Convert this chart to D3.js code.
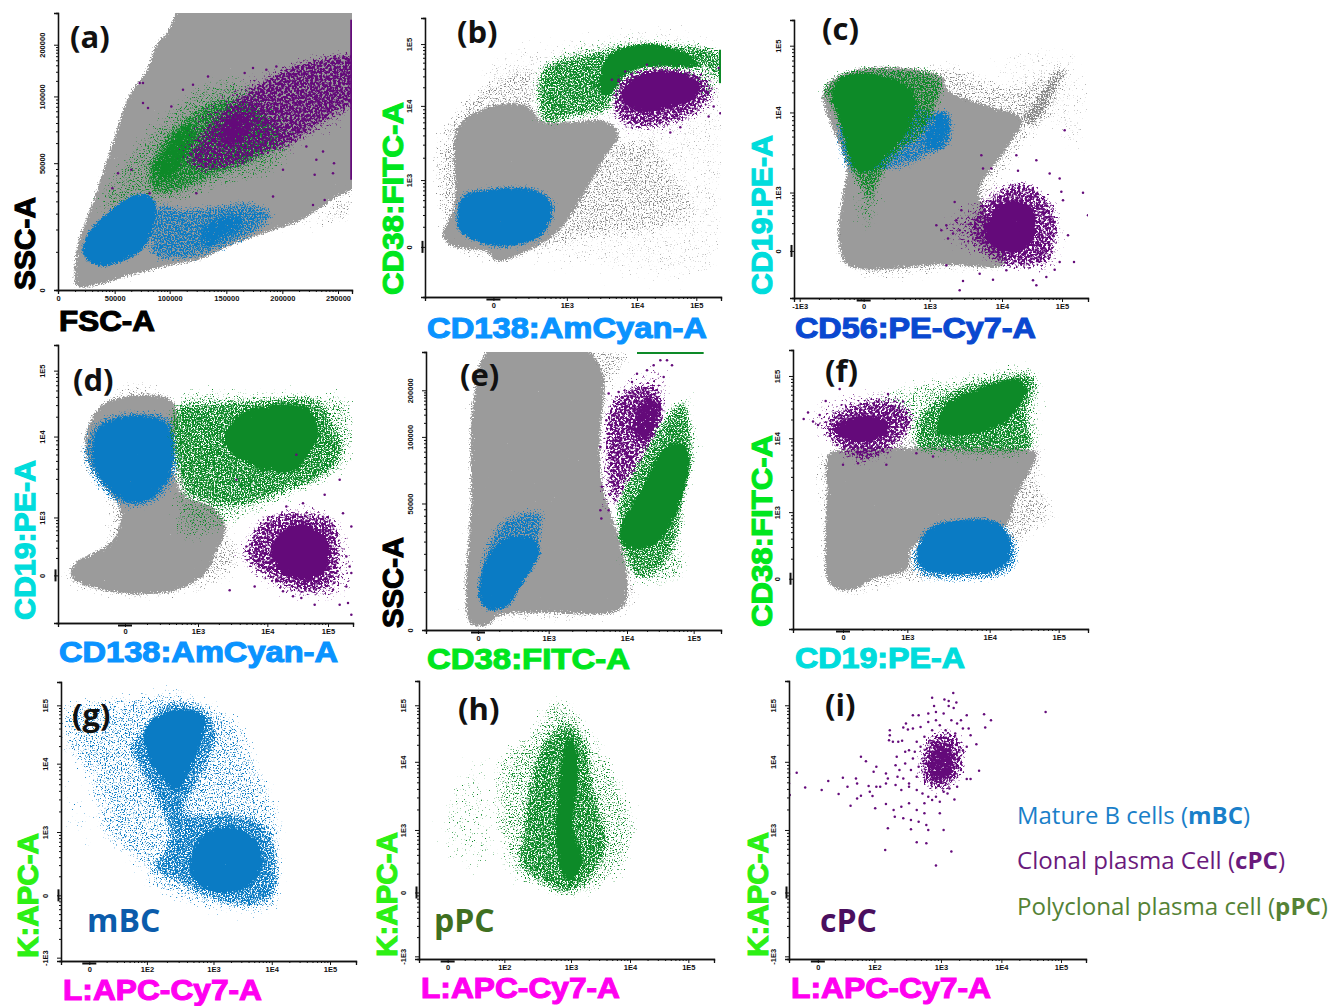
<!DOCTYPE html>
<html>
<head>
<meta charset="utf-8">
<script src="https://cdn.jsdelivr.net/npm/d3@7"></script>
<style>
html, body { margin: 0; background: #fff; }
svg { display: block; }
</style>
</head>
<body>
<div id="chart"></div>
<script>
// All population outlines and events are in display channels of each plot's own axes
const grayCol = "#9b9b9b", speckCol = "#858585", farCol = "#b5b5b5", greenCol = "#0d8a28", blueCol = "#0a7bc4", purpleCol = "#640a7a";

// tick positions (channels) and labels
const aXTicks = [0, 170, 335, 505, 673, 840], aXLabels = ["0", "50000", "100000", "150000", "200000", "250000"];
const aYTicks = [0, 380, 580, 735], aYLabels = ["0", "50000", "100000", "200000"];
const bXTicks = [205, 425, 635, 813], bYTicks = [150, 350, 572, 757];
const cXTicks = [17, 209, 407, 624, 804], cYTicks = [141, 316, 556, 756];
const dXTicks = [201, 420, 628, 810], dYTicks = [143, 317, 560, 758];
const eXTicks = [156, 368, 603, 803], eYTicks = [0, 380, 580, 720];
const fXTicks = [150, 343, 590, 797], fYTicks = [151, 351, 573, 760];
const gXTicks = [85, 258, 458, 633, 808], gYTicks = [10, 197, 387, 592, 767];
const hXTicks = [86, 256, 456, 633, 808], hYTicks = [8, 200, 388, 593, 763];
const iXTicks = [203, 350, 523, 680, 835], iYTicks = [140, 332, 520, 725, 895];
const logLabels = ["0", "1E3", "1E4", "1E5"];
const logLabelsNeg = ["-1E3", "0", "1E3", "1E4", "1E5"];
const lowLabels = ["0", "1E2", "1E3", "1E4", "1E5"];
const kLabels = ["-1E3", "0", "1E3", "1E4", "1E5"];

// panel a
const aGray = [[53,110],[53,10],[125,15],[225,45],[325,70],[425,90],[525,135],[625,170],[725,205],[825,270],[900,320],[900,860],[380,860],[325,770],[295,740],[265,660],[210,580],[175,480],[145,390],[105,270],[55,130]];
const aGrayHalo = [[125,10],[325,40],[525,100],[725,160],[900,220],[900,320],[725,205],[525,135],[325,70],[125,15]];
const aBlueCore = [[72,130],[75,100],[125,70],[195,85],[255,120],[290,190],[295,260],[265,290],[215,280],[145,230],[95,180]];
const aBlueCore2 = [[415,170],[475,220],[545,230],[565,200],[505,150],[435,125]];
const aBlueMid = [[295,260],[385,250],[475,260],[575,270],[655,230],[605,170],[505,120],[385,85],[275,100]];
const aGreenHalo = [[95,230],[165,370],[265,490],[385,600],[505,650],[625,600],[725,470],[665,350],[525,310],[385,260],[275,240],[175,220]];
const aGreenMid = [[255,330],[295,440],[385,530],[485,580],[585,570],[675,450],[615,390],[465,330],[345,280],[285,280]];
const aGreenCore = [[275,350],[315,430],[385,500],[425,480],[395,410],[335,320]];
const aPurpleHalo = [[345,370],[425,550],[605,660],[900,720],[900,540],[725,420],[575,360],[445,340]];
const aPurpleMid = [[385,390],[425,470],[505,560],[605,630],[695,680],[775,700],[900,710],[900,560],[805,500],[705,430],[625,400],[525,360],[425,350]];
const aPurpleCore = [[475,450],[505,520],[575,530],[585,470],[525,430]];
const aPurpleDots = [[255,620],[245,620],[255,560],[270,545],[340,550],[405,615],[375,600],[450,640],[560,650],[585,665],[625,660],[655,670],[705,450],[745,430],[795,415],[775,390],[828,380],[825,350],[770,345],[675,360],[645,280],[765,255],[800,270],[830,700],[855,695],[220,360],[180,350],[163,305],[415,290],[275,290]];
const aEdge = [[880,810],[880,330]];

// panel b
const bFar = [[150,700],[450,800],[880,790],[880,60],[500,60],[300,100]];
const bGrayHalo = [[25,290],[20,460],[95,580],[185,660],[285,700],[355,700],[355,560],[595,490],[695,490],[755,390],[835,250],[735,190],[475,150],[335,120],[215,90],[65,150]];
const bGray = [[50,190],[85,270],[90,490],[125,540],[235,580],[315,570],[345,530],[435,525],[535,530],[585,490],[535,410],[475,300],[395,190],[315,140],[215,105],[185,135],[95,145],[55,170]];
const bBlueMid = [[85,240],[105,310],[215,335],[340,330],[395,285],[390,230],[350,170],[235,140],[140,160],[90,200]];
const bBlueCore = [[95,240],[110,300],[215,325],[335,320],[380,280],[380,240],[345,180],[235,150],[145,170],[100,200]];
const bGreenHalo = [[335,700],[445,760],[635,785],[835,765],[887,740],[887,600],[600,560],[345,510]];
const bGreenMid = [[345,520],[345,690],[455,730],[595,760],[735,760],[887,740],[887,640],[815,690],[675,690],[575,620],[555,550],[435,530],[405,515]];
const bGreenCore = [[525,610],[545,720],[665,760],[785,730],[835,690],[655,685],[595,660],[555,600]];
const bPurpleHalo = [[535,590],[575,670],[665,700],[835,690],[887,630],[865,550],[735,490],[595,490]];
const bPurpleMid = [[555,570],[575,650],[655,690],[735,690],[835,670],[875,620],[835,560],[735,510],[615,500],[575,525]];
const bPurpleCore = [[585,600],[620,655],[695,680],[790,665],[830,630],[795,585],[715,560],[630,555]];
const bPurpleDots = [[850,540],[885,550],[865,570],[880,685],[665,695],[735,492],[765,508],[560,650],[580,650],[600,675]];
const bEdge = [[884,740],[884,640]];

// panel c
const cFar = [[500,700],[800,770],[880,720],[880,400],[600,650]];
const cGrayHalo = [[110,173],[127,293],[437,713],[637,653],[797,683],[817,593],[717,473],[657,393],[600,300],[650,120],[400,60],[197,60]];
const cGray = [[132,173],[147,323],[157,393],[87,623],[197,688],[447,663],[457,628],[597,573],[687,538],[637,443],[557,323],[577,253],[637,103],[437,98],[217,83],[157,98]];
const cStreak = [[667,523],[727,613],[787,693],[827,693],[787,603],[727,513]];
const cBlueMid = [[125,475],[160,380],[230,370],[370,400],[460,470],[467,553],[427,563],[330,600],[150,600]];
const cBlueCore = [[387,443],[427,563],[467,563],[472,463],[427,433]];
const cGreenHalo = [[167,273],[177,333],[277,333],[267,273],[227,173],[197,193]];
const cGreenMid = [[77,623],[137,678],[287,698],[447,668],[442,583],[397,493],[307,413],[257,333],[227,273],[187,333],[157,393],[117,543]];
const cGreenCore = [[112,613],[147,668],[287,663],[367,603],[337,493],[277,423],[217,373],[177,393],[147,493],[127,553]];
const cPurpleHalo = [[427,213],[537,303],[637,363],[797,293],[817,173],[777,63],[637,93],[487,133]];
const cPurpleMid = [[517,213],[597,323],[697,353],[787,273],[797,193],[767,103],[697,83],[597,103]];
const cPurpleCore = [[567,193],[617,283],[687,293],[727,243],[717,173],[667,133],[607,143]];
const cPurpleDots = [[427,218],[442,203],[457,218],[482,288],[502,263],[487,233],[462,178],[477,193],[497,203],[457,98],[497,23],[507,51],[557,73],[597,55],[562,428],[567,388],[592,388],[667,428],[672,381],[727,413],[767,373],[797,358],[812,503],[867,315],[882,248],[840,108],[802,318],[807,293],[822,188],[797,108],[782,85],[727,38],[757,63],[717,53],[637,83],[617,123]];

// panel d
const dGrayHalo = [[50,500],[100,640],[200,730],[340,700],[360,620],[520,300],[560,160],[400,80],[210,70],[15,110],[10,180],[120,220],[140,350],[90,420]];
const dGray = [[85,580],[135,660],[225,685],[325,680],[355,650],[350,450],[385,380],[465,350],[505,290],[475,210],[445,150],[365,100],[225,85],[105,105],[35,140],[50,180],[165,250],[185,340],[125,430],[85,500]];
const dBlueMid = [[70,510],[110,610],[225,640],[340,620],[370,520],[350,420],[280,350],[210,340],[150,370],[100,430]];
const dBlueCore = [[100,510],[125,590],[225,625],[325,600],[350,520],[335,440],[275,370],[215,360],[165,390],[115,450]];
const dGreenHalo = [[340,420],[345,690],[600,700],[800,700],[885,680],[885,470],[780,400],[620,330],[450,250],[360,240]];
const dGreenMid = [[355,430],[345,650],[475,670],[625,680],[775,680],[825,620],[865,520],[825,450],[725,400],[585,350],[525,340],[465,350],[385,380]];
const dGreenCore = [[495,550],[545,630],[635,655],[745,650],[785,570],[755,510],[705,450],[625,460],[545,490]];
const dPurpleHalo = [[525,210],[585,310],[685,360],[825,340],[885,230],[885,90],[775,60],[605,110]];
const dPurpleMid = [[555,200],[615,320],[705,340],[825,320],[855,210],[830,110],[745,80],[625,130]];
const dPurpleCore = [[635,210],[675,280],[745,300],[810,250],[810,170],[765,130],[685,140]];
const dPurpleDots = [[515,98],[590,110],[675,95],[705,80],[730,75],[770,55],[845,55],[870,60],[880,25],[865,110],[880,150],[875,170],[865,200],[880,290],[855,330],[800,385],[735,360],[685,350],[535,430],[715,505],[845,430],[825,100],[835,150],[565,230]];

// panel e
const eGrayHalo = [[115,10],[105,100],[120,400],[125,680],[170,845],[630,840],[560,700],[530,480],[560,380],[640,200],[630,60],[500,25],[200,20]];
const eGray = [[133,15],[118,80],[133,370],[138,670],[193,850],[473,850],[533,770],[523,570],[533,430],[573,300],[603,180],[598,75],[563,50],[333,50],[213,40],[193,15]];
const eBlueMid = [[153,90],[173,250],[233,340],[353,360],[355,290],[338,230],[273,110],[243,65],[173,55]];
const eBlueCore = [[158,100],[178,210],[243,280],[333,270],[343,230],[313,170],[278,120],[248,70],[183,60]];
const eGreenHalo = [[603,140],[693,120],[790,160],[773,310],[823,570],[783,740],[713,610],[570,370]];
const eGreenMid = [[573,300],[563,370],[693,620],[773,700],[808,570],[783,400],[763,270],[703,170],[633,150],[583,230]];
const eGreenCore = [[578,300],[633,400],[713,550],[763,565],[793,520],[783,440],[738,320],[693,260],[623,240],[583,260]];
const ePurpleHalo = [[523,350],[523,570],[553,720],[633,780],[733,800],[733,700],[693,560],[623,440],[563,340]];
const ePurpleMid = [[553,370],[533,470],[533,620],[553,690],[623,740],[703,730],[718,680],[693,580],[663,530],[613,440],[553,360]];
const ePurpleCore = [[613,590],[633,680],[683,710],[713,680],[693,590],[653,550]];
const ePurpleDots = [[526,335],[523,360],[528,430],[548,360],[633,770],[663,780],[703,810],[738,795],[723,810],[618,745],[548,710],[578,715],[523,550],[541,630],[713,760],[683,795],[568,390]];
const eEdge = [[633,832],[833,832]];

// panel f
const fGrayHalo = [[85,540],[700,580],[770,540],[750,450],[810,350],[760,300],[670,230],[640,170],[340,125],[170,95],[90,120],[80,300]];
const fGray = [[105,528],[140,538],[720,538],[735,528],[710,468],[670,398],[640,308],[360,248],[345,178],[240,148],[190,118],[150,113],[105,138],[95,268],[100,418]];
const fBlueMid = [[355,240],[405,315],[490,335],[620,330],[670,280],[675,190],[620,150],[490,140],[385,150],[350,190]];
const fBlueCore = [[370,238],[410,303],[490,328],[610,323],[650,278],[650,208],[600,173],[490,163],[400,173],[370,208]];
const fGreenHalo = [[150,690],[300,730],[480,770],[740,790],[750,650],[735,530],[360,530],[300,640]];
const fGreenMid = [[370,528],[370,638],[460,718],[640,768],[720,773],[740,728],[710,648],[730,558],[720,533],[440,528]];
const fGreenCore = [[430,588],[460,678],[540,718],[680,753],[705,718],[680,668],[620,608],[540,583],[470,578]];
const fPurpleHalo = [[30,628],[120,698],[300,718],[380,648],[360,568],[280,498],[150,488],[100,548]];
const fPurpleMid = [[90,618],[140,668],[290,698],[370,648],[350,588],[290,528],[210,498],[150,528],[100,568]];
const fPurpleCore = [[120,608],[160,633],[240,643],[290,618],[280,578],[210,558],[140,573]];
const fPurpleDots = [[32,631],[45,650],[60,623],[75,613],[80,643],[98,685],[140,721],[420,518],[455,540],[370,528],[150,493],[195,498],[280,493],[285,706],[330,683]];

// panel g
const gHalo = [[0,772],[168,802],[358,817],[538,732],[608,582],[668,442],[668,252],[653,142],[468,142],[368,162],[248,232],[218,282],[118,362],[58,572],[0,622]];
const gFar = [[0,640],[60,560],[120,340],[210,240],[150,250],[60,330],[0,400]];
const gMid = [[238,692],[298,772],[368,787],[448,752],[478,672],[408,512],[378,452],[518,452],[618,412],[653,332],[648,192],[578,157],[468,172],[338,232],[268,272],[318,372],[248,532],[198,652]];
const gCore1 = [[248,692],[298,742],[378,757],[433,732],[428,672],[388,572],[348,507],[298,552],[258,622]];
const gCore2 = [[388,312],[428,382],[508,407],[588,362],[608,292],[578,232],[498,202],[418,222],[388,262]];

// panel h
const hFar = [[30,420],[200,650],[240,300],[150,230],[50,330]];
const hHalo = [[253,268],[218,418],[233,628],[313,668],[373,778],[443,798],[493,738],[553,648],[633,498],[663,388],[613,248],[493,178],[403,188],[283,228]];
const hMid = [[303,398],[323,538],[373,668],[443,718],[503,668],[533,518],[573,338],[513,228],[443,188],[353,228],[293,288]];
const hCore = [[413,468],[423,568],[448,678],[473,628],[478,528],[463,398],[493,308],[473,248],[443,228],[418,288],[408,388]];

// panel i
const iMid = [[460,730],[490,810],[560,820],[590,740],[570,660],[510,630],[470,660]];
const iCore = [[485,735],[510,790],[550,780],[565,730],[550,675],[510,655],[485,685]];
const iDots = [[500,918],[555,932],[532,912],[543,908],[563,903],[505,893],[543,893],[556,887],[635,868],[653,850],[638,828],[795,875],[450,865],[465,865],[490,870],[510,875],[530,870],[590,865],[575,850],[595,825],[600,805],[615,778],[590,770],[622,698],[590,673],[600,673],[565,650],[558,612],[540,630],
  [432,840],[425,828],[437,822],[390,820],[390,805],[388,790],[398,785],[412,785],[422,788],[450,825],[470,830],[490,845],[510,850],[520,835],[550,850],[535,820],[565,840],[580,825],
  [315,740],[328,727],[355,710],[348,695],[380,690],[408,740],[405,715],[415,700],[410,680],[385,675],[430,755],[440,760],[450,735],[430,720],[445,700],[425,675],[440,660],[460,680],[405,655],[420,640],[440,650],[460,640],[380,660],[365,650],[355,650],[335,652],[338,635],[345,622],[315,623],[305,615],[288,593],[352,585],[380,598],[400,580],[420,590],[440,600],[460,580],[480,600],[500,610],[520,605],[403,560],[425,555],[445,550],[465,545],[480,570],[520,570],[385,525],[445,522],[490,520],[530,520],[485,535],
  [378,460],[460,483],[485,480],[550,455],[510,413],
  [128,688],[148,692],[128,660],[130,625],[170,648],[213,640],[230,667],[257,628],[268,677],[280,650],[302,675],[305,660],
  [470,770],[455,755],[465,710],[475,630],[490,620],[510,620],[530,635],[545,645],[575,700],[580,760],[560,810],[500,820],[480,800],[460,785]];

const labelFont = "'Liberation Sans', Arial, sans-serif";
const noteFont = "'Open Sans', 'Noto Sans', sans-serif";

// how each kind of outline is rendered: peak density, edge softness, grain of the events
const densityStyle = {
    far: { density: 0.35, soft: 12, grain: 0.75 },
    halo: { density: 0.46, soft: 9, grain: 0.75 },
    mid: { density: 0.62, soft: 5, grain: 0.7 },
    dense: { density: 0.76, soft: 4, grain: 0.7 },
    core: { density: 1, soft: 3, grain: 0.7 }
};

let svg = d3.select("#chart").append("svg").attr("width", 1341).attr("height", 1006);
let defs = svg.append("defs");

defs.append("filter").attr("id", "soft").attr("x", "-5%").attr("y", "-5%").attr("width", "110%").attr("height", "110%")
    .append("feGaussianBlur").attr("stdDeviation", 0.45);

// turns an outline into a cloud of events that thins out towards its edge
let filterCount = 0;
function cloudFilter(color, soft, grain, area) {
    let id = "cloud" + (++filterCount);
    let f = defs.append("filter").attr("id", id)
        .attr("filterUnits", "userSpaceOnUse")
        .attr("x", area[0]).attr("y", area[1]).attr("width", area[2]).attr("height", area[3])
        .attr("color-interpolation-filters", "sRGB");
    f.append("feGaussianBlur").attr("in", "SourceAlpha").attr("stdDeviation", soft).attr("result", "spread");
    f.append("feTurbulence").attr("type", "fractalNoise").attr("baseFrequency", grain).attr("numOctaves", 2)
        .attr("seed", filterCount).attr("result", "noise");
    f.append("feColorMatrix").attr("in", "noise").attr("type", "matrix")
        .attr("values", "0 0 0 0 0  0 0 0 0 0  0 0 0 0 0  1 0 0 0 0").attr("result", "grainAlpha");
    f.append("feComposite").attr("in", "spread").attr("in2", "grainAlpha").attr("operator", "arithmetic")
        .attr("k1", 0).attr("k2", 1).attr("k3", 1).attr("k4", -1).attr("result", "sum");
    f.append("feComponentTransfer").attr("in", "sum").attr("result", "mask")
        .append("feFuncA").attr("type", "linear").attr("slope", 7).attr("intercept", 0);
    f.append("feFlood").attr("flood-color", color);
    f.append("feComposite").attr("in2", "mask").attr("operator", "in").attr("result", "cells");
    f.append("feGaussianBlur").attr("in", "cells").attr("stdDeviation", 0.4);
    return `url(#${id})`;
}

function drawPanel(p) {
    let x = d3.scaleLinear().domain(p.xDomain).range(p.xRange);
    let y = d3.scaleLinear().domain(p.yDomain).range(p.yRange);
    let shape = d3.line().x(d => x(d[0])).y(d => y(d[1])).curve(d3.curveCatmullRomClosed.alpha(0.5));
    let clipId = "clip" + p.name;
    defs.append("clipPath").attr("id", clipId).append("rect")
        .attr("x", p.xRange[0]).attr("y", p.yRange[1])
        .attr("width", p.xRange[1] - p.xRange[0]).attr("height", p.yRange[0] - p.yRange[1]);
    let area = [p.xRange[0] - 30, p.yRange[1] - 30, p.xRange[1] - p.xRange[0] + 60, p.yRange[0] - p.yRange[1] + 60];

    let g = svg.append("g").attr("clip-path", `url(#${clipId})`);

    p.layers.forEach(function (l) {
        if (densityStyle[l.kind]) {
            let s = densityStyle[l.kind];
            let grain = l.color == purpleCol ? s.grain * 0.62 : s.grain;
            g.append("path").attr("d", shape(l.data))
                .attr("fill", "#000").attr("fill-opacity", s.density)
                .attr("filter", cloudFilter(l.color, s.soft, grain, area));
        }
        if (l.kind == "dots") {
            g.append("g").attr("filter", "url(#soft)").selectAll("circle").data(l.data).enter().append("circle")
                .attr("cx", d => x(d[0])).attr("cy", d => y(d[1]))
                .attr("r", 1.25).attr("fill", l.color);
        }
        if (l.kind == "edge") {
            g.append("path").attr("d", d3.line().x(d => x(d[0])).y(d => y(d[1]))(l.data))
                .attr("fill", "none").attr("stroke", l.color).attr("stroke-width", 2.2);
        }
    });

    // axes: major ticks, then log style minor ticks between them
    let minor = ticks => {
        let out = [];
        for (let i = 0; i < ticks.length - 1; i++) {
            for (let k = 2; k < 10; k++) out.push(ticks[i] + (ticks[i + 1] - ticks[i]) * Math.log10(k));
        }
        return out;
    };
    let xAxis = svg.append("g").attr("transform", `translate(0, ${p.yRange[0]})`);
    xAxis.call(d3.axisBottom(x).tickValues(minor(p.xTicks)).tickSize(2).tickFormat(""));
    xAxis.append("g").call(d3.axisBottom(x).tickValues(p.xTicks).tickSize(4).tickPadding(2)
        .tickFormat((d, i) => p.xLabels[i]));
    let yAxis = svg.append("g").attr("transform", `translate(${p.xRange[0]}, 0)`);
    yAxis.call(d3.axisLeft(y).tickValues(minor(p.yTicks)).tickSize(2).tickFormat(""));
    yAxis.append("g").call(d3.axisLeft(y).tickValues(p.yTicks).tickSize(4).tickPadding(2)
        .tickFormat((d, i) => p.yLabels[i]));
    yAxis.selectAll("text").attr("x", 0).attr("y", 0).attr("dx", 0).attr("dy", -7)
        .style("text-anchor", "middle")
        .attr("transform", "translate(-6, 0) rotate(-90)");
    [xAxis, yAxis].forEach(function (a) {
        a.selectAll("path.domain").attr("stroke", "#111").attr("stroke-width", 1.3);
        a.selectAll(".tick line").attr("stroke", "#111");
        a.selectAll("text").style("font", `bold 7.5px ${labelFont}`).attr("fill", "#111");
    });

    // the heavy bracket the cytometer software draws round the zero of a biexponential axis
    if (p.name != "a") {
        let x0 = x(p.xTicks[p.xLabels.indexOf("0")]);
        xAxis.append("path").attr("d", `M${x0 - 7},2.5H${x0 + 7}`)
            .attr("fill", "none").attr("stroke", "#111").attr("stroke-width", 2);
        if (p.name != "e") {
            let y0 = y(p.yTicks[p.yLabels.indexOf("0")]);
            yAxis.append("path").attr("d", `M-2.5,${y0 - 6}V${y0 + 6}`)
                .attr("fill", "none").attr("stroke", "#111").attr("stroke-width", 2);
        }
    }
}

function axisTitle(text, color, x0, x1, base, vertical) {
    let t = svg.append("text")
        .style("font", `bold 29px ${labelFont}`)
        .attr("fill", color).attr("stroke", color).attr("stroke-width", 1.1)
        .attr("textLength", Math.abs(x1 - x0)).attr("lengthAdjust", "spacingAndGlyphs")
        .text(text);
    if (vertical) t.attr("transform", `translate(${base}, ${x0}) rotate(-90)`);
    else t.attr("x", x0).attr("y", base);
}

function panelLetter(text, px, py) {
    svg.append("text").attr("x", px).attr("y", py)
        .style("font", `700 31px ${noteFont}`).attr("fill", "#111").text(text);
}

function cellNote(text, px, py, color) {
    svg.append("text").attr("x", px).attr("y", py)
        .style("font", `700 32px ${noteFont}`).attr("fill", color).text(text);
}

function legendLine(plain, bold, py, color, px1) {
    let t = svg.append("text").attr("x", 1017).attr("y", py)
        .style("font", `23.5px ${noteFont}`).attr("fill", color)
        .attr("textLength", px1 - 1017).attr("lengthAdjust", "spacingAndGlyphs");
    t.append("tspan").text(plain + " (");
    t.append("tspan").style("font-weight", 700).text(bold);
    t.append("tspan").text(")");
}

const panels = [
    { name: "a", xDomain: [0, 882], yDomain: [0, 830], xRange: [58, 352], yRange: [290, 13], xTicks: aXTicks, xLabels: aXLabels, yTicks: aYTicks, yLabels: aYLabels,
      layers: [{ kind: "core", color: grayCol, data: aGray }, { kind: "halo", color: speckCol, data: aGrayHalo }, { kind: "mid", color: blueCol, data: aBlueMid }, { kind: "dense", color: blueCol, data: aBlueCore2 }, { kind: "halo", color: greenCol, data: aGreenHalo }, { kind: "mid", color: greenCol, data: aGreenMid }, { kind: "dense", color: greenCol, data: aGreenCore }, { kind: "core", color: blueCol, data: aBlueCore }, { kind: "halo", color: purpleCol, data: aPurpleHalo }, { kind: "mid", color: purpleCol, data: aPurpleMid }, { kind: "dense", color: purpleCol, data: aPurpleCore }, { kind: "dots", color: purpleCol, data: aPurpleDots }, { kind: "edge", color: purpleCol, data: aEdge }] },
    { name: "b", xDomain: [0, 887], yDomain: [0, 835], xRange: [425, 721], yRange: [297, 18], xTicks: bXTicks, xLabels: logLabels, yTicks: bYTicks, yLabels: logLabels,
      layers: [{ kind: "far", color: farCol, data: bFar }, { kind: "halo", color: speckCol, data: bGrayHalo }, { kind: "core", color: grayCol, data: bGray }, { kind: "mid", color: blueCol, data: bBlueMid }, { kind: "core", color: blueCol, data: bBlueCore }, { kind: "halo", color: greenCol, data: bGreenHalo }, { kind: "mid", color: greenCol, data: bGreenMid }, { kind: "core", color: greenCol, data: bGreenCore }, { kind: "edge", color: greenCol, data: bEdge }, { kind: "halo", color: purpleCol, data: bPurpleHalo }, { kind: "mid", color: purpleCol, data: bPurpleMid }, { kind: "core", color: purpleCol, data: bPurpleCore }, { kind: "dots", color: purpleCol, data: bPurpleDots }] },
    { name: "c", xDomain: [0, 882], yDomain: [0, 833], xRange: [794, 1088], yRange: [298, 20], xTicks: cXTicks, xLabels: logLabelsNeg, yTicks: cYTicks, yLabels: logLabels,
      layers: [{ kind: "far", color: farCol, data: cFar }, { kind: "halo", color: speckCol, data: cGrayHalo }, { kind: "core", color: grayCol, data: cGray }, { kind: "mid", color: speckCol, data: cStreak }, { kind: "mid", color: blueCol, data: cBlueMid }, { kind: "dense", color: blueCol, data: cBlueCore }, { kind: "halo", color: greenCol, data: cGreenHalo }, { kind: "mid", color: greenCol, data: cGreenMid }, { kind: "core", color: greenCol, data: cGreenCore }, { kind: "halo", color: purpleCol, data: cPurpleHalo }, { kind: "mid", color: purpleCol, data: cPurpleMid }, { kind: "core", color: purpleCol, data: cPurpleCore }, { kind: "dots", color: purpleCol, data: cPurpleDots }] },
    { name: "d", xDomain: [0, 885], yDomain: [0, 835], xRange: [58, 353], yRange: [623, 345], xTicks: dXTicks, xLabels: logLabels, yTicks: dYTicks, yLabels: logLabels,
      layers: [{ kind: "halo", color: speckCol, data: dGrayHalo }, { kind: "core", color: grayCol, data: dGray }, { kind: "mid", color: blueCol, data: dBlueMid }, { kind: "core", color: blueCol, data: dBlueCore }, { kind: "halo", color: greenCol, data: dGreenHalo }, { kind: "mid", color: greenCol, data: dGreenMid }, { kind: "core", color: greenCol, data: dGreenCore }, { kind: "halo", color: purpleCol, data: dPurpleHalo }, { kind: "mid", color: purpleCol, data: dPurpleMid }, { kind: "core", color: purpleCol, data: dPurpleCore }, { kind: "dots", color: purpleCol, data: dPurpleDots }] },
    { name: "e", xDomain: [0, 885], yDomain: [0, 835], xRange: [426, 721], yRange: [630, 352], xTicks: eXTicks, xLabels: logLabels, yTicks: eYTicks, yLabels: aYLabels,
      layers: [{ kind: "halo", color: speckCol, data: eGrayHalo }, { kind: "core", color: grayCol, data: eGray }, { kind: "mid", color: blueCol, data: eBlueMid }, { kind: "core", color: blueCol, data: eBlueCore }, { kind: "halo", color: greenCol, data: eGreenHalo }, { kind: "mid", color: greenCol, data: eGreenMid }, { kind: "core", color: greenCol, data: eGreenCore }, { kind: "edge", color: greenCol, data: eEdge }, { kind: "halo", color: purpleCol, data: ePurpleHalo }, { kind: "mid", color: purpleCol, data: ePurpleMid }, { kind: "dense", color: purpleCol, data: ePurpleCore }, { kind: "dots", color: purpleCol, data: ePurpleDots }] },
    { name: "f", xDomain: [0, 885], yDomain: [0, 838], xRange: [793, 1088], yRange: [629, 350], xTicks: fXTicks, xLabels: logLabels, yTicks: fYTicks, yLabels: logLabels,
      layers: [{ kind: "halo", color: speckCol, data: fGrayHalo }, { kind: "core", color: grayCol, data: fGray }, { kind: "mid", color: blueCol, data: fBlueMid }, { kind: "core", color: blueCol, data: fBlueCore }, { kind: "halo", color: greenCol, data: fGreenHalo }, { kind: "mid", color: greenCol, data: fGreenMid }, { kind: "core", color: greenCol, data: fGreenCore }, { kind: "halo", color: purpleCol, data: fPurpleHalo }, { kind: "mid", color: purpleCol, data: fPurpleMid }, { kind: "core", color: purpleCol, data: fPurpleCore }, { kind: "dots", color: purpleCol, data: fPurpleDots }] },
    { name: "g", xDomain: [0, 886], yDomain: [0, 837], xRange: [61, 356], yRange: [961, 682], xTicks: gXTicks, xLabels: lowLabels, yTicks: gYTicks, yLabels: kLabels,
      layers: [{ kind: "far", color: blueCol, data: gFar }, { kind: "halo", color: blueCol, data: gHalo }, { kind: "mid", color: blueCol, data: gMid }, { kind: "core", color: blueCol, data: gCore1 }, { kind: "core", color: blueCol, data: gCore2 }] },
    { name: "h", xDomain: [0, 885], yDomain: [0, 836], xRange: [419, 714], yRange: [959, 681], xTicks: hXTicks, xLabels: lowLabels, yTicks: hYTicks, yLabels: kLabels,
      layers: [{ kind: "far", color: greenCol, data: hFar }, { kind: "halo", color: greenCol, data: hHalo }, { kind: "mid", color: greenCol, data: hMid }, { kind: "core", color: greenCol, data: hCore }] },
    { name: "i", xDomain: [128, 900], yDomain: [132, 968], xRange: [789, 1086], yRange: [959, 681], xTicks: iXTicks, xLabels: lowLabels, yTicks: iYTicks, yLabels: kLabels,
      layers: [{ kind: "mid", color: purpleCol, data: iMid }, { kind: "dense", color: purpleCol, data: iCore }, { kind: "dots", color: purpleCol, data: iDots }] }
];

panels.forEach(drawPanel);

// axis titles: text, colour, start, end, baseline
const cyanCol = "#00dcdc", limeCol = "#00e61e", amCol = "#0a93ff", pinkCol = "#ff00f0", kCol = "#2cf014";
axisTitle("FSC-A", "#000", 59, 155, 331);
axisTitle("SSC-A", "#000", 290, 197, 35, true);
axisTitle("CD138:AmCyan-A", amCol, 427, 707, 338);
axisTitle("CD38:FITC-A", limeCol, 295, 102, 403, true);
axisTitle("CD56:PE-Cy7-A", "#0a48d0", 795, 1036, 338);
axisTitle("CD19:PE-A", cyanCol, 295, 135, 772, true);
axisTitle("CD138:AmCyan-A", amCol, 59, 338, 662);
axisTitle("CD19:PE-A", cyanCol, 620, 460, 35, true);
axisTitle("CD38:FITC-A", limeCol, 427, 630, 669);
axisTitle("SSC-A", "#000", 628, 537, 403, true);
axisTitle("CD19:PE-A", cyanCol, 795, 965, 668);
axisTitle("CD38:FITC-A", limeCol, 627, 435, 772, true);
axisTitle("L:APC-Cy7-A", pinkCol, 63, 262, 1000);
axisTitle("K:APC-A", kCol, 958, 833, 38, true);
axisTitle("L:APC-Cy7-A", pinkCol, 421, 620, 998);
axisTitle("K:APC-A", kCol, 957, 832, 397, true);
axisTitle("L:APC-Cy7-A", pinkCol, 791, 991, 998);
axisTitle("K:APC-A", kCol, 957, 832, 768, true);

panelLetter("(a)", 70, 48);
panelLetter("(b)", 457, 43);
panelLetter("(c)", 822, 40);
panelLetter("(d)", 73, 391);
panelLetter("(e)", 460, 386);
panelLetter("(f)", 825, 382);
panelLetter("(g)", 72, 726);
panelLetter("(h)", 458, 720);
panelLetter("(i)", 825, 716);

cellNote("mBC", 87, 932, "#0b5cab");
cellNote("pPC", 434, 932, "#3f6f1f");
cellNote("cPC", 820, 932, "#4a0f5f");

legendLine("Mature B cells", "mBC", 824, "#1a7fc9", 1250);
legendLine("Clonal plasma Cell", "cPC", 869, "#6a1a7c", 1285);
legendLine("Polyclonal plasma cell", "pPC", 915, "#548235", 1328);
</script>
</body>
</html>
